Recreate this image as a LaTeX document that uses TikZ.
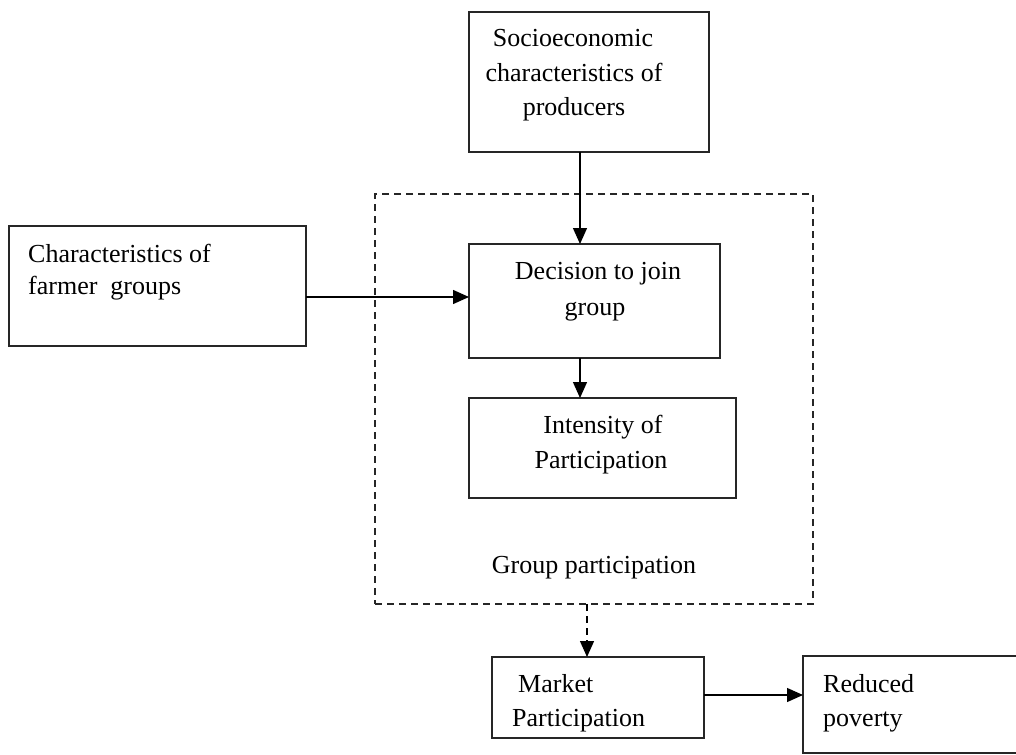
\documentclass[tikz,border=0pt]{standalone}
\usepackage{fontspec}
\setmainfont{Liberation Serif}
\usetikzlibrary{arrows.meta}
\begin{document}
\begin{tikzpicture}[x=1pt,y=-1pt,
  box/.style={draw=black!85, line width=1.3pt, rectangle, inner sep=0pt, outer sep=0pt},
  grpbox/.style={draw=black!85, line width=1.3pt, dash pattern=on 7pt off 5pt, rectangle, inner sep=0pt, outer sep=0pt},
  txt/.style={inner sep=0pt, font=\fontsize{26}{34}\selectfont},
  arr/.style={draw=black, line width=1.3pt, -{Triangle[length=16pt,width=14pt]}},
  darr/.style={arr, dash pattern=on 7pt off 5pt}]
\useasboundingbox (0,0) rectangle (1016,754);
\clip (0,0) rectangle (1016,754);
\fill[white] (0,0) rectangle (1016,754);

% boxes
\node[box, minimum width=240pt, minimum height=140pt] (socio) at (589,82) {};
\node[box, minimum width=297pt, minimum height=120pt] (chars) at (157.5,286) {};
\node[grpbox, minimum width=438pt, minimum height=410pt] (group) at (594,399) {};
\node[box, minimum width=251pt, minimum height=114pt] (decision) at (594.5,301) {};
\node[box, minimum width=267pt, minimum height=100pt] (intensity) at (602.5,448) {};
\node[box, minimum width=212pt, minimum height=81pt] (market) at (598,697.5) {};
\node[box, minimum width=320pt, minimum height=97pt] (reduced) at (963,704.5) {};

% texts
\node[txt, anchor=base] (s1) at (573,47) {Socioeconomic};
\node[txt, anchor=base] (s2) at (574,82) {characteristics of};
\node[txt, anchor=base] (s3) at (574,116) {producers};
\node[txt, anchor=base west] (c1) at (28,262) {Characteristics of};
\node[txt, anchor=base west] (c2) at (28,294) {farmer\ \ groups};
\node[txt, anchor=base] (d1) at (598,279) {Decision to join};
\node[txt, anchor=base] (d2) at (595,315) {group};
\node[txt, anchor=base] (i1) at (603,433) {Intensity of};
\node[txt, anchor=base] (i2) at (601,468) {Participation};
\node[txt, anchor=base] (g1) at (594,573) {Group participation};
\node[txt, anchor=base west] (m1) at (518,692) {Market};
\node[txt, anchor=base west] (m2) at (512,726) {Participation};
\node[txt, anchor=base west] (r1) at (823,692) {Reduced};
\node[txt, anchor=base west] (r2) at (823,726) {poverty};

% connector guides
\coordinate (vx) at (580,0);
\coordinate (hy) at (0,297);
\coordinate (dx) at (587,0);
\coordinate (my) at (0,695);

% connectors
\draw[arr] (socio.south -| vx) -- (decision.north -| vx);
\draw[arr] (chars.east |- hy) -- (decision.west |- hy);
\draw[arr] (decision.south -| vx) -- (intensity.north -| vx);
\draw[darr] (group.south -| dx) -- (market.north -| dx);
\draw[arr] (market.east |- my) -- (reduced.west |- my);
\end{tikzpicture}
\end{document}
